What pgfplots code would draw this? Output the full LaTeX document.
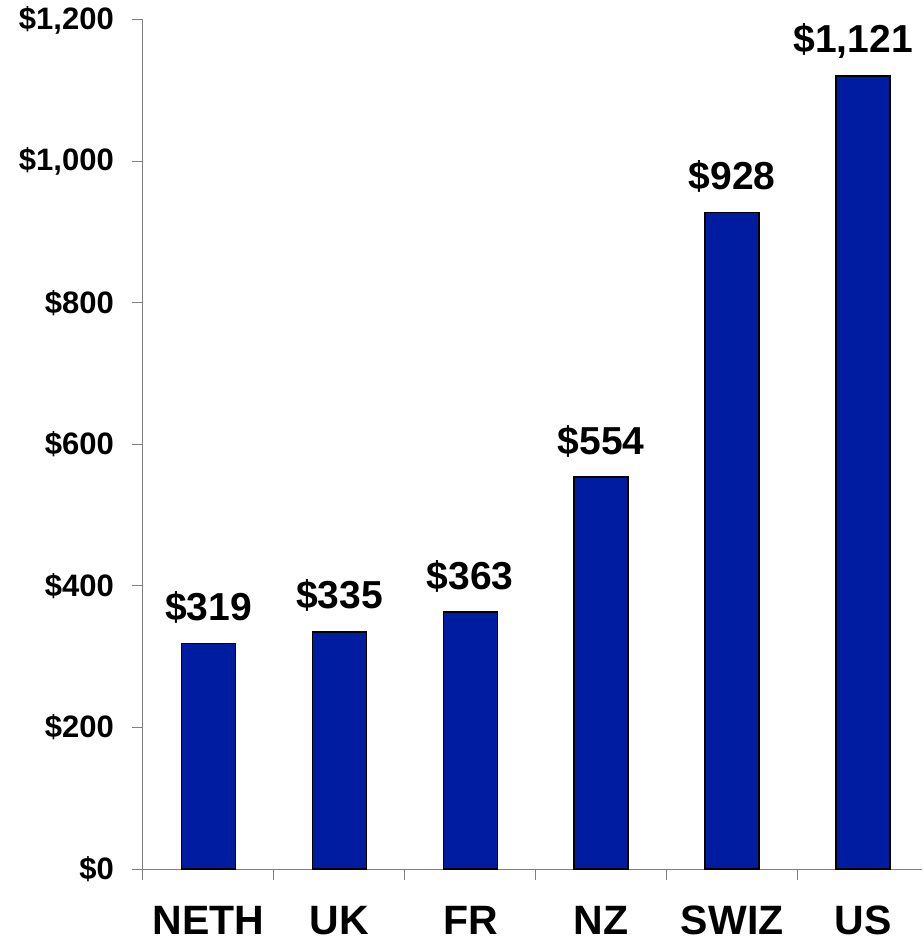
\documentclass[border=0pt]{standalone}
\usepackage{pgfplots}
\pgfplotsset{compat=1.18}
\usepackage{fontspec}
\setmainfont{Liberation Sans}
\definecolor{barblue}{RGB}{0,28,160}
\definecolor{axgray}{RGB}{128,128,128}
\begin{document}
\begin{tikzpicture}
\begin{axis}[name=ax, scale only axis, width=779pt, height=849pt,
  xmin=-0.5, xmax=5.45, ymin=0, ymax=1200, clip=false,
  axis x line=bottom, axis y line=left,
  axis line style={-, draw=axgray, line width=1pt},
  tick align=outside, major tick length=11pt,
  ytick={0,200,...,1200},
  yticklabels={\$0,\$200,\$400,\$600,\$800,{\$1,000},{\$1,200}},
  ytick style={draw=axgray, line width=1pt},
  yticklabel style={font=\fontsize{31}{31}\selectfont\bfseries, inner sep=0pt, anchor=east, xshift=-18pt},
  xtick={-0.5,0.5,...,4.5},
  xticklabels={NETH,UK,FR,NZ,SWIZ,US},
  xtick style={draw=axgray, line width=1pt},
  xticklabel style={font=\fontsize{41}{41}\selectfont\bfseries, inner sep=0pt, anchor=north, xshift=65.5pt, yshift=-26pt},
  ybar, bar width=54pt,
  point meta=explicit symbolic,
  nodes near coords,
  nodes near coords style={anchor=base, yshift=23pt, xshift={ifthenelse(\coordindex==5,-10,0)}, inner sep=0pt, font=\fontsize{39}{39}\selectfont\bfseries, black},
]
\addplot[fill=barblue, draw=black, line width=1.5pt] coordinates {
  (0,319) [\$319]
  (1,335) [\$335]
  (2,363) [\$363]
  (3,554) [\$554]
  (4,928) [\$928]
  (5,1121) [{\$1,121}]
};
\end{axis}
\pgfresetboundingbox
\path[use as bounding box] (ax.south west) ++(-143pt,-74pt) rectangle ++(922pt,943pt);
\end{tikzpicture}
\end{document}
